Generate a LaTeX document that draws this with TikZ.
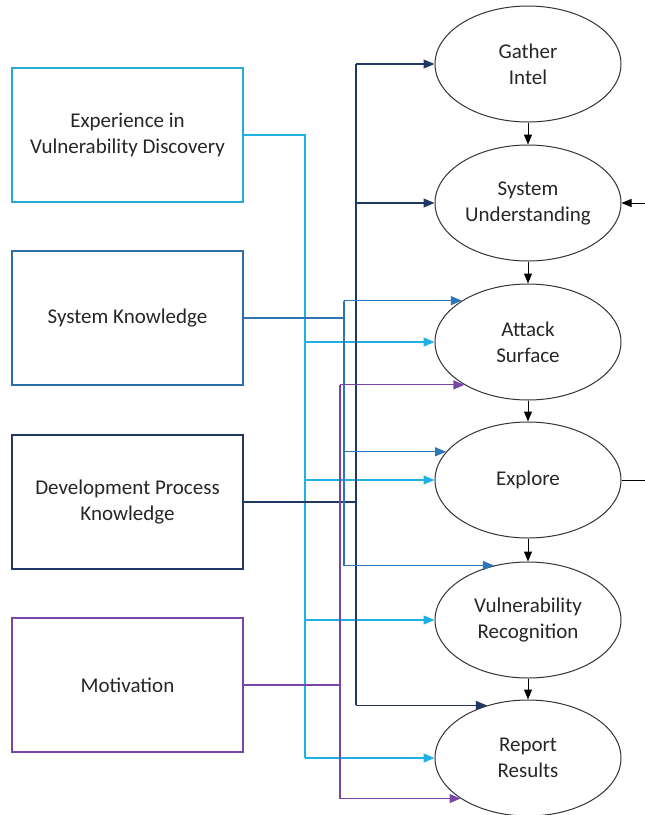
\documentclass[tikz,border=0pt]{standalone}
\usepackage{fontspec}
\setmainfont{Carlito}
\usetikzlibrary{arrows.meta,shapes.geometric}
\definecolor{cExp}{HTML}{1FB0E6}
\definecolor{cExpBox}{HTML}{27A9D6}
\definecolor{cSK}{HTML}{2E75B6}
\definecolor{cSKBox}{HTML}{2E6DA8}
\definecolor{cDev}{HTML}{1F3864}
\definecolor{cMot}{HTML}{7A45A8}
\begin{document}
\begin{tikzpicture}[x=1pt,y=-1pt,
  every node/.style={font=\fontsize{21}{26}\selectfont, text=black!85},
  factor/.style={draw, line width=1.2pt, minimum width=231pt, minimum height=134pt, align=center, inner sep=0pt},
  phase/.style={draw=black!80, ellipse, line width=1pt, minimum width=186pt, minimum height=116pt, inner sep=0pt, align=center},
  conn/.style={line width=1.2pt},
  arr/.style={line width=1.2pt, -{Triangle[length=11pt,width=9pt]}},
  flow/.style={draw=black, line width=1pt, -{Triangle[length=10pt,width=8pt]}}
]
\useasboundingbox (0,0) rectangle (645,815);

% factor boxes
\node[factor, draw=cExpBox] (exp) at (127.5,135) {Experience in\\Vulnerability Discovery};
\node[factor, draw=cSKBox] (sk) at (127.5,318) {System Knowledge};
\node[factor, draw=cDev] (dpk) at (127.5,502) {Development Process\\Knowledge};
\node[factor, draw=cMot] (mot) at (127.5,685) {Motivation};

% phases
\node[phase] (gi) at (528,64) {Gather\\Intel};
\node[phase] (su) at (528,203) {System\\Understanding};
\node[phase] (as) at (528,342) {Attack\\Surface};
\node[phase] (ex) at (528,480) {Explore};
\node[phase] (vr) at (528,620) {Vulnerability\\Recognition};
\node[phase] (rr) at (528,758) {Report\\Results};

% trunk x positions
\coordinate (xExp) at (305,0);
\coordinate (xSK) at (344,0);
\coordinate (xDev) at (356,0);
\coordinate (xMot) at (340,0);
\coordinate (xEdge) at (645,0);

% Experience (cyan)
\draw[conn, cExp] (exp.east) -- (exp.east -| xExp) -- (rr.west -| xExp);
\draw[arr, cExp] (as.west -| xExp) -- (as.west);
\draw[arr, cExp] (ex.west -| xExp) -- (ex.west);
\draw[arr, cExp] (vr.west -| xExp) -- (vr.west);
\draw[arr, cExp] (rr.west -| xExp) -- (rr.west);

% Development process knowledge (navy)
\draw[conn, cDev] (dpk.east) -- (dpk.east -| xDev);
\draw[conn, cDev] (gi.west -| xDev) -- (rr.128.4 -| xDev);
\draw[arr, cDev] (gi.west -| xDev) -- (gi.west);
\draw[arr, cDev] (su.west -| xDev) -- (su.west);
\draw[arr, cDev] (rr.128.4 -| xDev) -- (rr.128.4);

% System knowledge (blue)
\draw[conn, cSK] (sk.east) -- (sk.east -| xSK);
\draw[conn, cSK] (as.148.07 -| xSK) -- (vr.122.12 -| xSK);
\draw[arr, cSK] (as.148.07 -| xSK) -- (as.148.07);
\draw[arr, cSK] (ex.161.02 -| xSK) -- (ex.161.02);
\draw[arr, cSK] (vr.122.12 -| xSK) -- (vr.122.12);

% Motivation (purple)
\draw[conn, cMot] (mot.east) -- (mot.east -| xMot);
\draw[conn, cMot] (as.214.57 -| xMot) -- (rr.211.93 -| xMot);
\draw[arr, cMot] (as.214.57 -| xMot) -- (as.214.57);
\draw[arr, cMot] (rr.211.93 -| xMot) -- (rr.211.93);

% phase flow
\draw[flow] (gi.south) -- (su.north);
\draw[flow] (su.south) -- (as.north);
\draw[flow] (as.south) -- (ex.north);
\draw[flow] (ex.south) -- (vr.north);
\draw[flow] (vr.south) -- (rr.north);
\draw[flow] (su.east -| xEdge) -- (su.east);
\draw[line width=1pt, black] (ex.east) -- (ex.east -| xEdge);
\end{tikzpicture}
\end{document}
